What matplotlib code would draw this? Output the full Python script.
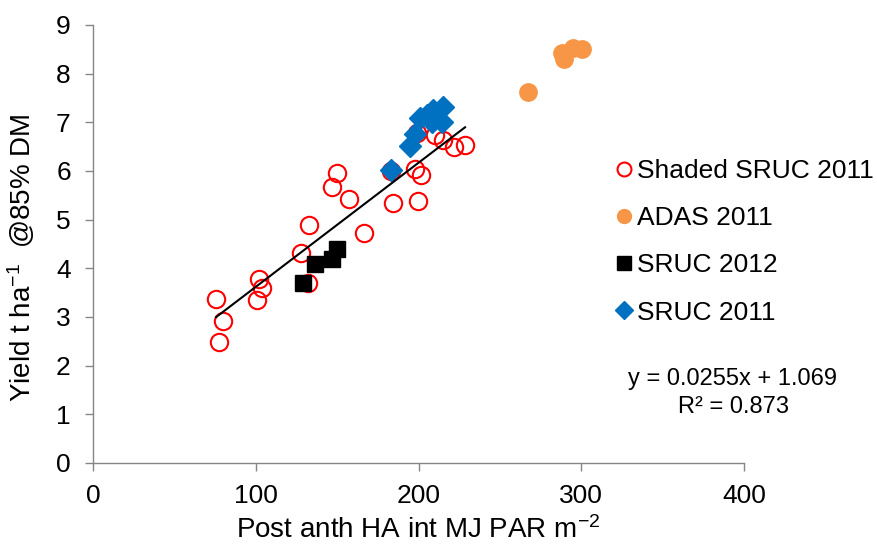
import numpy as np
import matplotlib
matplotlib.use("Agg")
import matplotlib.pyplot as plt

plt.rcParams["font.family"] = ["Liberation Sans", "DejaVu Sans"]
plt.rcParams["mathtext.fontset"] = "custom"
plt.rcParams["mathtext.rm"] = "Liberation Sans"
plt.rcParams["mathtext.it"] = "Liberation Sans:italic"
plt.rcParams["axes.unicode_minus"] = False

# Shaded plots, SRUC 2011
shaded_x = [75.6, 79.7, 77.6, 102.2, 103.6, 100.6, 127.8, 132.9, 132.3, 149.7,
            147.1, 157.5, 166.3, 182.9, 184.5, 197.8, 201.3, 199.5, 198.9, 210.1,
            215.2, 222.0, 228.6]
shaded_y = [3.38, 2.92, 2.48, 3.78, 3.59, 3.34, 4.31, 4.90, 3.69, 5.95,
            5.68, 5.42, 4.73, 6.01, 5.34, 6.04, 5.92, 5.38, 6.79, 6.74,
            6.64, 6.49, 6.53]

adas_x = [267.5, 288.0, 289.4, 295.1, 300.3]
adas_y = [7.62, 8.42, 8.30, 8.52, 8.50]

sruc12_x = [129.2, 136.4, 146.7, 150.1]
sruc12_y = [3.69, 4.08, 4.20, 4.39]

sruc11_x = [182.9, 194.8, 198.1, 200.9, 205.0, 209.1, 215.2, 214.2, 208.1]
sruc11_y = [6.03, 6.51, 6.77, 7.08, 7.15, 7.25, 7.32, 7.01, 7.01]

# linear trend on the shaded series
slope = 0.0255
intercept = 1.069
r2 = 0.873

W, H = 877, 544
fig = plt.figure(figsize=(W / 100, H / 100), dpi=100)
ax = fig.add_axes([93 / W, 1 - 463 / H, (744 - 93) / W, (463 - 25) / H])

ax.plot(shaded_x, shaded_y, "o", ms=12.5, mfc="none", mec="#FF0000", mew=1.5,
        label="Shaded SRUC 2011", zorder=3)
ax.plot(adas_x, adas_y, "o", ms=12.5, color="#F79646", mec="#F79646",
        label="ADAS 2011", zorder=3)
ax.plot(sruc12_x, sruc12_y, "s", ms=12, color="black",
        label="SRUC 2012", zorder=3)
ax.plot(sruc11_x, sruc11_y, "D", ms=11, color="#0070C0",
        label="SRUC 2011", zorder=3)

tx = np.array([min(shaded_x), max(shaded_x)])
ax.plot(tx, slope * tx + intercept, color="black", lw=1.5, zorder=4)

ax.set_xlim(0, 400)
ax.set_ylim(0, 9)
ax.set_xticks(np.arange(0, 401, 100))
ax.set_yticks(np.arange(0, 10, 1))

for side in ("top", "right"):
    ax.spines[side].set_visible(False)
for side in ("left", "bottom"):
    ax.spines[side].set_color("#868686")
    ax.spines[side].set_linewidth(1.0)
ax.tick_params(axis="both", direction="out", length=6, width=1.0,
               color="#868686", labelsize=19)
ax.tick_params(axis="y", pad=10)
ax.tick_params(axis="x", pad=9)

ax.set_xlabel("Post anth HA int MJ PAR m$^{-2}$", fontsize=20, labelpad=6)
ax.set_ylabel("Yield t ha$^{-1}$  @85% DM", fontsize=20)
ax.yaxis.set_label_coords(-56 / (744 - 93), (463 - 258) / (463 - 25))

leg = ax.legend(loc="upper left", bbox_to_anchor=(615 / W, 1 - 159 / H),
                bbox_transform=fig.transFigure, frameon=False,
                fontsize=19, markerscale=0.8, handlelength=0.7,
                handletextpad=0.15, labelspacing=0.88, borderaxespad=0,
                borderpad=0)

fig.text(733 / W, 1 - 379 / H, f"y = {slope}x + {intercept}",
         ha="center", va="center", fontsize=17)
fig.text(733 / W, 1 - 407 / H, f"R\u00b2 = {r2}",
         ha="center", va="center", fontsize=17)

fig.savefig("out.png", dpi=100, facecolor="white")
